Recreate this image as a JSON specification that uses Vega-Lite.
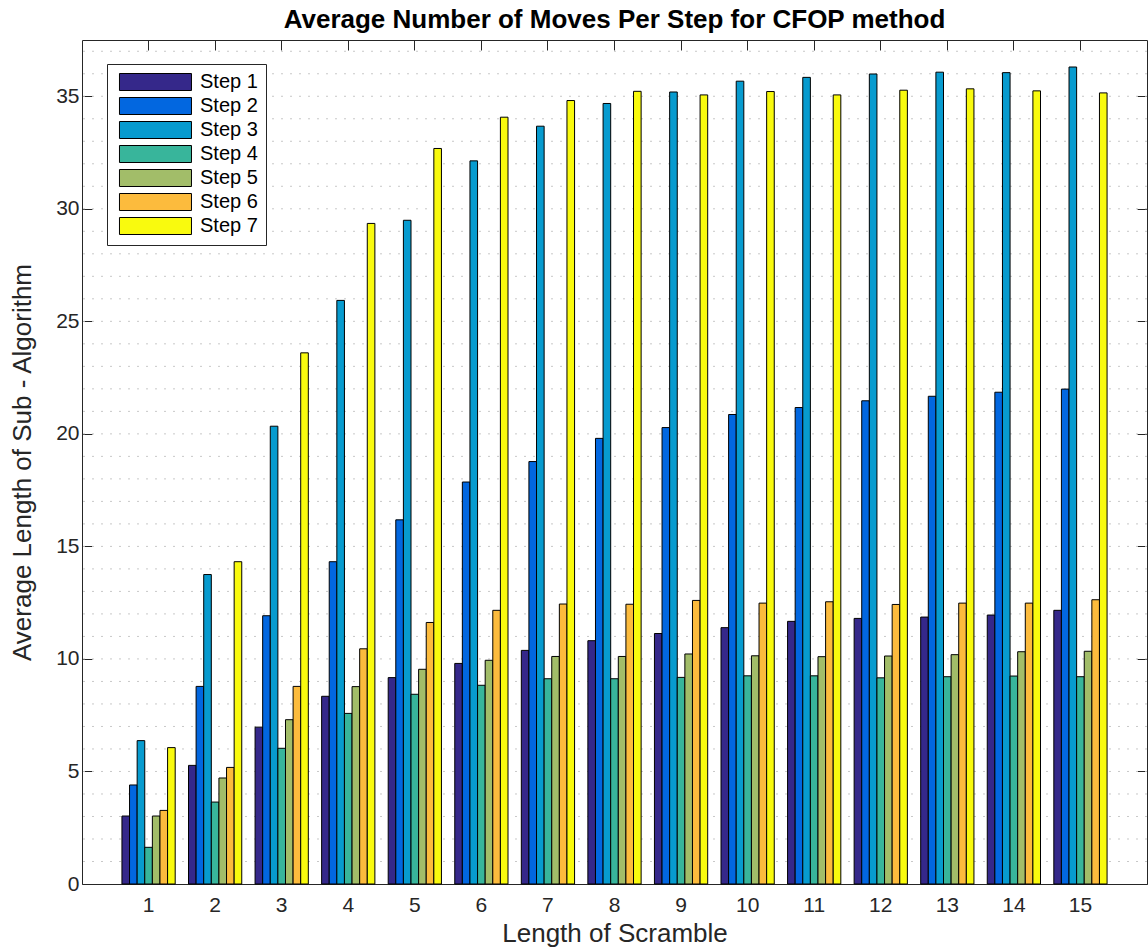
{
  "$schema": "https://vega.github.io/schema/vega-lite/v6.json",
  "width": 1065,
  "height": 844,
  "autosize": {"type": "none"},
  "padding": {"left": 82, "top": 40, "right": 1, "bottom": 67},
  "background": "white",
  "title": {
    "text": "Average Number of Moves Per Step for CFOP method",
    "font": "Liberation Sans",
    "fontSize": 26,
    "fontWeight": "bold",
    "color": "#000000",
    "anchor": "middle",
    "offset": 7
  },
  "datasets": {
    "moves": [
      {"len": 1, "step": "Step 1", "moves": 3.02}, {"len": 1, "step": "Step 2", "moves": 4.40}, {"len": 1, "step": "Step 3", "moves": 6.37}, {"len": 1, "step": "Step 4", "moves": 1.63}, {"len": 1, "step": "Step 5", "moves": 3.02}, {"len": 1, "step": "Step 6", "moves": 3.27}, {"len": 1, "step": "Step 7", "moves": 6.06},
      {"len": 2, "step": "Step 1", "moves": 5.27}, {"len": 2, "step": "Step 2", "moves": 8.78}, {"len": 2, "step": "Step 3", "moves": 13.75}, {"len": 2, "step": "Step 4", "moves": 3.64}, {"len": 2, "step": "Step 5", "moves": 4.71}, {"len": 2, "step": "Step 6", "moves": 5.18}, {"len": 2, "step": "Step 7", "moves": 14.32},
      {"len": 3, "step": "Step 1", "moves": 6.97}, {"len": 3, "step": "Step 2", "moves": 11.92}, {"len": 3, "step": "Step 3", "moves": 20.34}, {"len": 3, "step": "Step 4", "moves": 6.03}, {"len": 3, "step": "Step 5", "moves": 7.30}, {"len": 3, "step": "Step 6", "moves": 8.78}, {"len": 3, "step": "Step 7", "moves": 23.60},
      {"len": 4, "step": "Step 1", "moves": 8.34}, {"len": 4, "step": "Step 2", "moves": 14.32}, {"len": 4, "step": "Step 3", "moves": 25.93}, {"len": 4, "step": "Step 4", "moves": 7.58}, {"len": 4, "step": "Step 5", "moves": 8.77}, {"len": 4, "step": "Step 6", "moves": 10.45}, {"len": 4, "step": "Step 7", "moves": 29.35},
      {"len": 5, "step": "Step 1", "moves": 9.17}, {"len": 5, "step": "Step 2", "moves": 16.18}, {"len": 5, "step": "Step 3", "moves": 29.49}, {"len": 5, "step": "Step 4", "moves": 8.43}, {"len": 5, "step": "Step 5", "moves": 9.54}, {"len": 5, "step": "Step 6", "moves": 11.62}, {"len": 5, "step": "Step 7", "moves": 32.68},
      {"len": 6, "step": "Step 1", "moves": 9.80}, {"len": 6, "step": "Step 2", "moves": 17.86}, {"len": 6, "step": "Step 3", "moves": 32.13}, {"len": 6, "step": "Step 4", "moves": 8.83}, {"len": 6, "step": "Step 5", "moves": 9.94}, {"len": 6, "step": "Step 6", "moves": 12.16}, {"len": 6, "step": "Step 7", "moves": 34.07},
      {"len": 7, "step": "Step 1", "moves": 10.38}, {"len": 7, "step": "Step 2", "moves": 18.77}, {"len": 7, "step": "Step 3", "moves": 33.67}, {"len": 7, "step": "Step 4", "moves": 9.12}, {"len": 7, "step": "Step 5", "moves": 10.11}, {"len": 7, "step": "Step 6", "moves": 12.44}, {"len": 7, "step": "Step 7", "moves": 34.81},
      {"len": 8, "step": "Step 1", "moves": 10.81}, {"len": 8, "step": "Step 2", "moves": 19.80}, {"len": 8, "step": "Step 3", "moves": 34.68}, {"len": 8, "step": "Step 4", "moves": 9.12}, {"len": 8, "step": "Step 5", "moves": 10.11}, {"len": 8, "step": "Step 6", "moves": 12.43}, {"len": 8, "step": "Step 7", "moves": 35.22},
      {"len": 9, "step": "Step 1", "moves": 11.13}, {"len": 9, "step": "Step 2", "moves": 20.28}, {"len": 9, "step": "Step 3", "moves": 35.19}, {"len": 9, "step": "Step 4", "moves": 9.18}, {"len": 9, "step": "Step 5", "moves": 10.22}, {"len": 9, "step": "Step 6", "moves": 12.60}, {"len": 9, "step": "Step 7", "moves": 35.06},
      {"len": 10, "step": "Step 1", "moves": 11.39}, {"len": 10, "step": "Step 2", "moves": 20.86}, {"len": 10, "step": "Step 3", "moves": 35.67}, {"len": 10, "step": "Step 4", "moves": 9.25}, {"len": 10, "step": "Step 5", "moves": 10.14}, {"len": 10, "step": "Step 6", "moves": 12.48}, {"len": 10, "step": "Step 7", "moves": 35.21},
      {"len": 11, "step": "Step 1", "moves": 11.67}, {"len": 11, "step": "Step 2", "moves": 21.17}, {"len": 11, "step": "Step 3", "moves": 35.84}, {"len": 11, "step": "Step 4", "moves": 9.25}, {"len": 11, "step": "Step 5", "moves": 10.10}, {"len": 11, "step": "Step 6", "moves": 12.54}, {"len": 11, "step": "Step 7", "moves": 35.06},
      {"len": 12, "step": "Step 1", "moves": 11.80}, {"len": 12, "step": "Step 2", "moves": 21.47}, {"len": 12, "step": "Step 3", "moves": 35.99}, {"len": 12, "step": "Step 4", "moves": 9.16}, {"len": 12, "step": "Step 5", "moves": 10.13}, {"len": 12, "step": "Step 6", "moves": 12.42}, {"len": 12, "step": "Step 7", "moves": 35.27},
      {"len": 13, "step": "Step 1", "moves": 11.86}, {"len": 13, "step": "Step 2", "moves": 21.67}, {"len": 13, "step": "Step 3", "moves": 36.07}, {"len": 13, "step": "Step 4", "moves": 9.21}, {"len": 13, "step": "Step 5", "moves": 10.19}, {"len": 13, "step": "Step 6", "moves": 12.48}, {"len": 13, "step": "Step 7", "moves": 35.33},
      {"len": 14, "step": "Step 1", "moves": 11.95}, {"len": 14, "step": "Step 2", "moves": 21.85}, {"len": 14, "step": "Step 3", "moves": 36.05}, {"len": 14, "step": "Step 4", "moves": 9.24}, {"len": 14, "step": "Step 5", "moves": 10.32}, {"len": 14, "step": "Step 6", "moves": 12.48}, {"len": 14, "step": "Step 7", "moves": 35.24},
      {"len": 15, "step": "Step 1", "moves": 12.16}, {"len": 15, "step": "Step 2", "moves": 21.99}, {"len": 15, "step": "Step 3", "moves": 36.30}, {"len": 15, "step": "Step 4", "moves": 9.21}, {"len": 15, "step": "Step 5", "moves": 10.34}, {"len": 15, "step": "Step 6", "moves": 12.63}, {"len": 15, "step": "Step 7", "moves": 35.15}
    ],
    "gridlines": [
      {"g": 1}, {"g": 2}, {"g": 3}, {"g": 4}, {"g": 5}, {"g": 6}, {"g": 7}, {"g": 8}, {"g": 9}, {"g": 10},
      {"g": 11}, {"g": 12}, {"g": 13}, {"g": 14}, {"g": 15}, {"g": 16}, {"g": 17}, {"g": 18}, {"g": 19}, {"g": 20},
      {"g": 21}, {"g": 22}, {"g": 23}, {"g": 24}, {"g": 25}, {"g": 26}, {"g": 27}, {"g": 28}, {"g": 29}, {"g": 30},
      {"g": 31}, {"g": 32}, {"g": 33}, {"g": 34}, {"g": 35}, {"g": 36}, {"g": 37}
    ]
  },
  "layer": [
    {
      "data": {"name": "gridlines"},
      "mark": {"type": "rule", "stroke": "#c8c8c8", "strokeWidth": 1, "strokeDash": [2, 7]},
      "encoding": {
        "y": {
          "field": "g",
          "type": "quantitative",
          "scale": {"domain": [0, 37.5], "nice": false, "zero": true},
          "axis": {
            "orient": "right",
            "values": [0, 5, 10, 15, 20, 25, 30, 35],
            "labels": false,
            "domain": false,
            "grid": false,
            "ticks": true,
            "tickSize": -10,
            "title": null
          }
        }
      }
    },
    {
      "data": {"name": "moves"},
      "mark": {"type": "bar", "stroke": "#000000", "strokeWidth": 1},
      "encoding": {
        "x": {
          "field": "len",
          "type": "ordinal",
          "scale": {"type": "band", "paddingInner": 0.2, "paddingOuter": 0.6},
          "axis": {
            "orient": "bottom",
            "title": "Length of Scramble",
            "labelAngle": 0,
            "domain": false,
            "ticks": true,
            "tickSize": -10,
            "labelPadding": 20,
            "titlePadding": 5
          }
        },
        "xOffset": {
          "field": "step",
          "type": "nominal",
          "scale": {"paddingInner": 0, "paddingOuter": 0}
        },
        "y": {
          "field": "moves",
          "type": "quantitative",
          "scale": {"domain": [0, 37.5], "nice": false, "zero": true},
          "axis": {
            "orient": "left",
            "title": "Average Length of Sub - Algorithm",
            "values": [0, 5, 10, 15, 20, 25, 30, 35],
            "domain": false,
            "grid": false,
            "ticks": true,
            "tickSize": -10,
            "labelPadding": 13,
            "titlePadding": 20
          }
        },
        "color": {
          "field": "step",
          "type": "nominal",
          "scale": {
            "domain": ["Step 1", "Step 2", "Step 3", "Step 4", "Step 5", "Step 6", "Step 7"],
            "range": ["#35288a", "#0267e0", "#079bcf", "#38b59b", "#a2bd69", "#fcbb3d", "#f9fa0e"]
          },
          "legend": {
            "title": null,
            "orient": "none",
            "legendX": 25,
            "legendY": 24,
            "symbolType": "M-0.65,-1H7.82V1H-0.65Z",
            "symbolSize": 289,
            "symbolStrokeColor": "#000000",
            "symbolStrokeWidth": 1,
            "labelFontSize": 20,
            "labelFont": "Liberation Sans",
            "labelColor": "#000000",
            "labelOffset": 65,
            "rowPadding": 2,
            "padding": 8,
            "strokeColor": "#262626",
            "fillColor": "#ffffff"
          }
        }
      }
    },
    {
      "data": {"name": "moves"},
      "mark": {"type": "point", "opacity": 0},
      "encoding": {
        "x": {
          "field": "len",
          "type": "ordinal",
          "axis": {
            "orient": "top",
            "labels": false,
            "domain": false,
            "ticks": true,
            "tickSize": -10,
            "title": null
          }
        }
      }
    }
  ],
  "resolve": {"axis": {"x": "independent", "y": "independent"}},
  "config": {
    "view": {"stroke": "#262626", "strokeWidth": 1},
    "axis": {
      "labelFont": "Liberation Sans",
      "labelFontSize": 21,
      "labelColor": "#262626",
      "titleFont": "Liberation Sans",
      "titleFontSize": 26,
      "titleFontWeight": "normal",
      "titleColor": "#262626",
      "tickColor": "#262626",
      "tickWidth": 1
    }
  }
}
